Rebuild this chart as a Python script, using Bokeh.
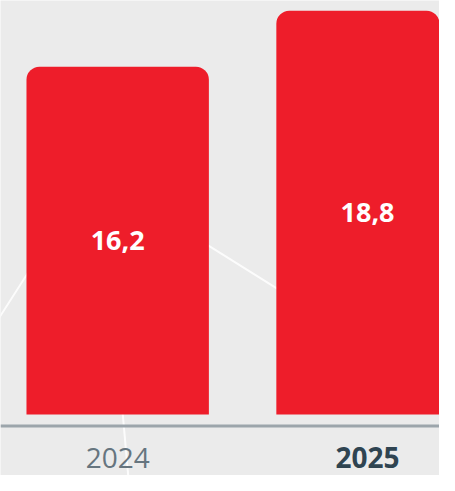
from bokeh.plotting import figure
from bokeh.models import ColumnDataSource, Range1d, Span
from bokeh.core.properties import value
from bokeh.embed import file_html
from bokeh.resources import INLINE

# Data
years = ["2024", "2025"]
values = [16.2, 18.8]
value_labels = ["16,2", "18,8"]
label_colors = ["#66757f", "#2f4451"]
label_styles = ["normal", "bold"]

# Decorative background lines (data coords)
decor_xs = [[-0.546, -0.103, 0.806], [-0.0097, 0.052]]
decor_ys = [[3.2, 11.26, 4.64], [3.96, -4.14]]

xpos = list(range(len(years)))

p = figure(width=439, height=475, output_backend="svg", toolbar_location=None,
           x_range=Range1d(-0.469, 1.288), y_range=Range1d(-2.84, 19.28),
           x_axis_location=None, y_axis_location=None, min_border=0,
           background_fill_color="#ebebeb", border_fill_color="#ebebeb",
           outline_line_color=None)
p.grid.visible = False

p.multi_line(xs=decor_xs, ys=decor_ys, line_color="white", line_width=2, line_alpha=0.85)

src = ColumnDataSource(dict(x=xpos, top=values, lab=value_labels, mid=[v / 2 for v in values],
                            yr=years, yc=label_colors, ys=label_styles, ly=[-2.02] * len(years)))

p.vbar(x="x", top="top", bottom=0, width=0.73, source=src, fill_color="#ee1d2a",
       line_color=None, border_radius=(13, 13, 0, 0))

p.add_layout(Span(location=-0.54, dimension="width", line_color="#9ca5ab", line_width=3))

p.text(x="x", y="mid", text="lab", source=src, text_color="white", text_font=value("Open Sans"),
       text_font_size="27px", text_font_style="bold", text_align="center", text_baseline="middle")

p.text(x="x", y="ly", text="yr", source=src, text_color="yc", text_font=value("Open Sans"),
       text_font_size="28px", text_font_style="ys", text_align="center", text_baseline="middle")

open("out.html", "w").write(file_html(p, INLINE))
